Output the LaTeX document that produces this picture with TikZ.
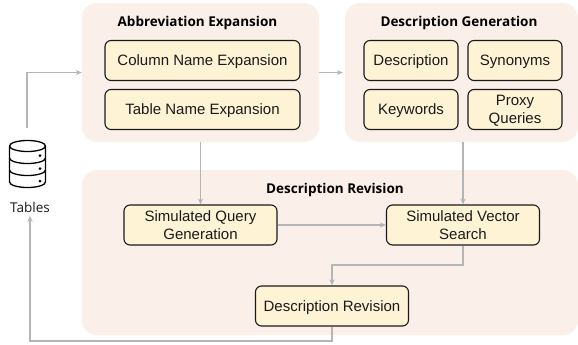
\documentclass[tikz,border=0pt]{standalone}
\usepackage{fontspec}
\setmainfont{Liberation Sans}
\newfontfamily\titlefont{Open Sans}
\definecolor{panelfill}{HTML}{FBEFEA}
\definecolor{boxfill}{HTML}{FFF3D6}
\definecolor{linkgray}{HTML}{B5B5B5}
\definecolor{inkdark}{HTML}{1A1A1A}
\usetikzlibrary{arrows.meta}
\tikzset{
  panel/.style={fill=panelfill,rounded corners=15pt,inner sep=0pt},
  stagebox/.style={draw=inkdark,line width=1.1pt,fill=boxfill,rounded corners=6pt,align=center,inner sep=0pt,
    minimum height=40pt,text depth=0pt,font=\fontsize{15}{18}\selectfont,text=inkdark},
  widebox/.style={stagebox,minimum width=195pt},
  smallbox/.style={stagebox,minimum width=94pt},
  flowbox/.style={stagebox,minimum width=153pt},
  paneltitle/.style={font=\titlefont\bfseries\fontsize{13.5}{15}\selectfont,text=black},
  link/.style={draw=linkgray,line width=1.5pt,-{Stealth[length=6pt,width=5pt]}},
}
\begin{document}
\begin{tikzpicture}[x=1pt,y=-1pt]
\useasboundingbox (0,0) rectangle (578,345);

% Panels
\node[panel,minimum width=237pt,minimum height=139pt] (abbrev) at (200.5,72.5) {};
\node[panel,minimum width=233pt,minimum height=139pt] (descgen) at (461.5,72.5) {};
\node[panel,minimum width=496pt,minimum height=165pt] (revision) at (330,252.5) {};

% Panel titles
\node[paneltitle] (abbrevtitle) at (197.5,23) {Abbreviation Expansion};
\node[paneltitle] (descgentitle) at (459,23) {Description Generation};
\node[paneltitle] (revisiontitle) at (335,190) {Description Revision};

% Abbreviation Expansion
\node[widebox] (column) at (202.5,60.5) {Column Name Expansion};
\node[widebox] (table) at (202.5,109.5) {Table Name Expansion};

% Description Generation
\node[smallbox] (description) at (411,60.5) {Description};
\node[smallbox] (synonyms) at (515,60.5) {Synonyms};
\node[smallbox] (keywords) at (411,109.5) {Keywords};
\node[smallbox] (proxy) at (515,109.5) {Proxy\\Queries};

% Description Revision
\node[flowbox] (simquery) at (200.5,225) {Simulated Query\\Generation};
\node[flowbox] (simvector) at (463,225) {Simulated Vector\\Search};
\node[flowbox] (descrev) at (332,306) {Description Revision};

% Tables
\node[font=\titlefont\fontsize{13.5}{15}\selectfont,text=inkdark] (tables) at (30,207) {Tables};
\coordinate (dbtop) at (27,128);
\coordinate (knee) at (398,265);
\coordinate (loop) at (180,341);
\draw[black,line width=1.3pt,fill=white] (9.5,146) -- (9.5,182) arc[start angle=180,end angle=360,x radius=18pt,y radius=5.5pt] -- (45.5,146)
  arc[start angle=0,end angle=180,x radius=18pt,y radius=5.5pt];
\draw[black,line width=1.3pt] (9.5,146) arc[start angle=180,end angle=360,x radius=18pt,y radius=5.5pt];
\draw[black,line width=1.3pt] (9.5,158) arc[start angle=180,end angle=360,x radius=18pt,y radius=5.5pt];
\draw[black,line width=1.3pt] (9.5,170) arc[start angle=180,end angle=360,x radius=18pt,y radius=5.5pt];
\fill[black] (40,155.5) circle (1.5pt);
\fill[black] (40,168.5) circle (1.5pt);
\fill[black] (40,181) circle (1.5pt);

% Links
\draw[link] (dbtop) |- (abbrev.west);
\draw[link] (abbrev.east) -- ([xshift=-2pt]descgen.west);
\draw[link] (abbrev.south) -- (simquery.north);
\draw[link] (descgen.south -| simvector.north) -- (simvector.north);
\draw[link] (simquery.east) -- (simvector.west);
\draw[link] (simvector.south) |- (knee) -| (descrev.north);
\draw[link] (descrev.south) |- (loop) -| (tables.south);

\end{tikzpicture}
\end{document}
